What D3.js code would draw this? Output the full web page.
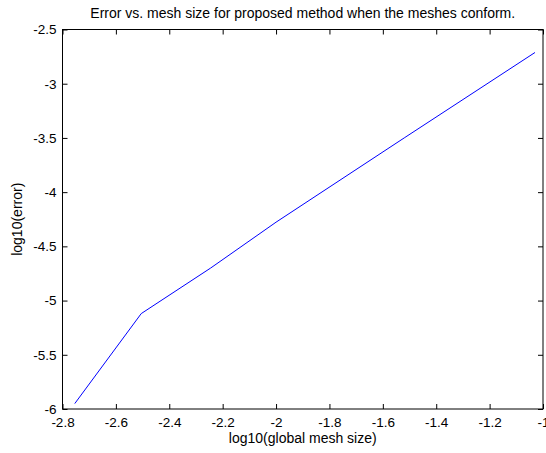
<!DOCTYPE html>
<html>
<head>
<meta charset="utf-8">
<script src="https://cdn.jsdelivr.net/npm/d3@7"></script>
<style>
  body { margin: 0; background: #fff; }
  text { font-family: "Liberation Sans", Arial, sans-serif; fill: #000; }
</style>
</head>
<body>
<script>
var width = 546
var height = 453

// log10 of mesh size and log10 of error
var meshSize = [-2.754, -2.505, -2.245, -2.0, -1.52, -1.03]
var errorVals = [-5.95, -5.12, -4.70, -4.277, -3.50, -2.712]
var xTicks = [-2.8, -2.6, -2.4, -2.2, -2, -1.8, -1.6, -1.4, -1.2, -1]
var yTicks = [-2.5, -3, -3.5, -4, -4.5, -5, -5.5, -6]

var titleText = 'Error vs. mesh size for proposed method when the meshes conform.'
var xLabel = 'log10(global mesh size)'
var yLabel = 'log10(error)'

var margin = { top: 29.5, right: 3, bottom: 44, left: 62.5 }
var w = width - margin.left - margin.right
var h = height - margin.top - margin.bottom

var svg = d3.select('body').append('svg')
  .attr('width', width)
  .attr('height', height)

var g = svg.append('g')
  .attr('transform', 'translate(' + margin.left + ',' + margin.top + ')')

var x = d3.scaleLinear().domain([-2.8, -1]).range([0, w])
var y = d3.scaleLinear().domain([-6, -2.5]).range([h, 0])

function fmt (d) { return String(d) }

// ticks point inward, matlab style, mirrored on top and right
var xAxis = g.append('g')
  .attr('transform', 'translate(0,' + h + ')')
  .call(d3.axisBottom(x).tickValues(xTicks).tickFormat(fmt).tickSizeInner(-5).tickSizeOuter(0).tickPadding(8))
var xTop = g.append('g')
  .call(d3.axisTop(x).tickValues(xTicks).tickFormat('').tickSizeInner(-5).tickSizeOuter(0))
var yAxis = g.append('g')
  .call(d3.axisLeft(y).tickValues(yTicks).tickFormat(fmt).tickSizeInner(-5).tickSizeOuter(0).tickPadding(6))
var yRight = g.append('g')
  .attr('transform', 'translate(' + w + ',0)')
  .call(d3.axisRight(y).tickValues(yTicks).tickFormat('').tickSizeInner(-5).tickSizeOuter(0))

;[xAxis, xTop, yAxis, yRight].forEach(function (a) {
  a.select('.domain').remove()
  a.selectAll('line').attr('stroke', '#000')
  a.selectAll('text')
    .style('font-family', '"Liberation Sans", Arial, sans-serif')
    .style('font-size', '13.5px')
    .attr('fill', '#000')
})

// box
g.append('rect')
  .attr('x', 0)
  .attr('y', 0)
  .attr('width', w)
  .attr('height', h)
  .attr('fill', 'none')
  .attr('stroke', '#000')
  .attr('stroke-width', 1)

var line = d3.line()
  .x(function (d) { return x(d[0]) })
  .y(function (d) { return y(d[1]) })

g.append('path')
  .datum(d3.zip(meshSize, errorVals))
  .attr('d', line)
  .attr('fill', 'none')
  .attr('stroke', '#0000ff')
  .attr('stroke-width', 1)

svg.append('text')
  .attr('x', margin.left + w / 2)
  .attr('y', 18)
  .attr('text-anchor', 'middle')
  .style('font-size', '14px')
  .text(titleText)

svg.append('text')
  .attr('x', margin.left + w / 2)
  .attr('y', 443)
  .attr('text-anchor', 'middle')
  .style('font-size', '14px')
  .text(xLabel)

svg.append('text')
  .attr('transform', 'translate(22,' + (margin.top + h / 2) + ') rotate(-90)')
  .attr('text-anchor', 'middle')
  .style('font-size', '14px')
  .text(yLabel)
</script>
</body>
</html>
